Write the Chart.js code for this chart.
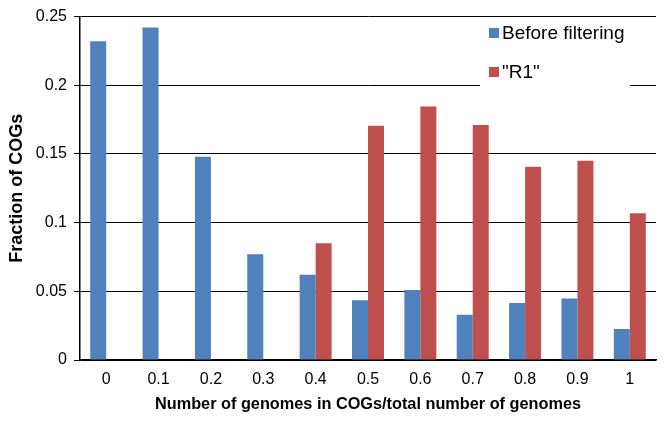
<!DOCTYPE html>
<html>
<head>
<meta charset="utf-8">
<script src="https://cdn.jsdelivr.net/npm/chart.js@4/dist/chart.umd.min.js"></script>
<style>
  html, body { margin: 0; padding: 0; background: #fff; }
  #wrap { width: 664px; height: 421px; position: relative; }
</style>
</head>
<body>
<div id="wrap"><canvas id="c" width="664" height="421"></canvas></div>
<script>
const categories = ['0', '0.1', '0.2', '0.3', '0.4', '0.5', '0.6', '0.7', '0.8', '0.9', '1'];
const beforeFiltering = [0.232, 0.242, 0.148, 0.077, 0.062, 0.0435, 0.051, 0.033, 0.0415, 0.0447, 0.0226];
const r1 = [0, 0, 0, 0, 0.085, 0.1705, 0.1845, 0.171, 0.1407, 0.1451, 0.1068];
const yTickLabels = ['0', '0.05', '0.1', '0.15', '0.2', '0.25'];
const seriesNames = ['Before filtering', '"R1"'];
const seriesColors = ['#4F81BD', '#C0504D'];

const boxLegend = {
  id: 'boxLegend',
  beforeDatasetsDraw(chart) {
    const ctx = chart.ctx;
    ctx.save();
    ctx.fillStyle = '#ffffff';
    ctx.fillRect(480, 20, 150, 72);
    ctx.restore();
  },
  afterDatasetsDraw(chart) {
    const ctx = chart.ctx;
    ctx.save();
    ctx.font = '19px "Liberation Sans", Arial, sans-serif';
    ctx.textBaseline = 'middle';
    ctx.textAlign = 'left';
    chart.data.datasets.forEach((ds, i) => {
      const cy = 33 + i * 39;
      ctx.fillStyle = ds.backgroundColor;
      ctx.fillRect(489, cy - 5, 10, 10);
      ctx.fillStyle = '#000';
      ctx.fillText(ds.label, 502, cy + 1);
    });
    ctx.restore();
  }
};

new Chart(document.getElementById('c'), {
  type: 'bar',
  data: {
    labels: categories,
    datasets: [
      { label: seriesNames[0], data: beforeFiltering, backgroundColor: seriesColors[0], borderWidth: 0 },
      { label: seriesNames[1], data: r1, backgroundColor: seriesColors[1], borderWidth: 0 }
    ]
  },
  options: {
    responsive: false,
    animation: false,
    devicePixelRatio: 1,
    layout: { padding: { left: 0, right: 8, top: 14, bottom: 0 } },
    datasets: { bar: { categoryPercentage: 0.611, barPercentage: 1.0 } },
    plugins: {
      legend: { display: false },
      tooltip: { enabled: false }
    },
    scales: {
      x: {
        grid: { display: true, drawOnChartArea: false, drawTicks: false, color: 'rgba(0,0,0,0)' },
        border: { display: true, color: '#000', width: 1.5 },
        ticks: { color: '#000', padding: 10, font: { family: '"Liberation Sans", Arial, sans-serif', size: 16 }, maxRotation: 0 },
        title: {
          display: true,
          text: 'Number of genomes in COGs/total number of genomes',
          color: '#000',
          font: { family: '"Liberation Sans", Arial, sans-serif', size: 16.3, weight: 'bold' },
          padding: { top: 0, bottom: 7 }
        },
        afterFit(scale) { scale.height = 61; }
      },
      y: {
        min: 0,
        max: 0.25,
        ticks: {
          stepSize: 0.05,
          color: '#000',
          padding: 7,
          font: { family: '"Liberation Sans", Arial, sans-serif', size: 16 },
          callback: (v, i) => yTickLabels[i]
        },
        grid: { color: '#000', lineWidth: 1, tickLength: 6, drawTicks: true },
        border: { display: true, color: '#000', width: 1.5 },
        title: {
          display: true,
          text: 'Fraction of COGs',
          color: '#000',
          font: { family: '"Liberation Sans", Arial, sans-serif', size: 18, weight: 'bold' },
          padding: { top: 6, bottom: 0 }
        },
        afterFit(scale) { scale.width = 80; }
      }
    }
  },
  plugins: [boxLegend]
});
</script>
</body>
</html>
